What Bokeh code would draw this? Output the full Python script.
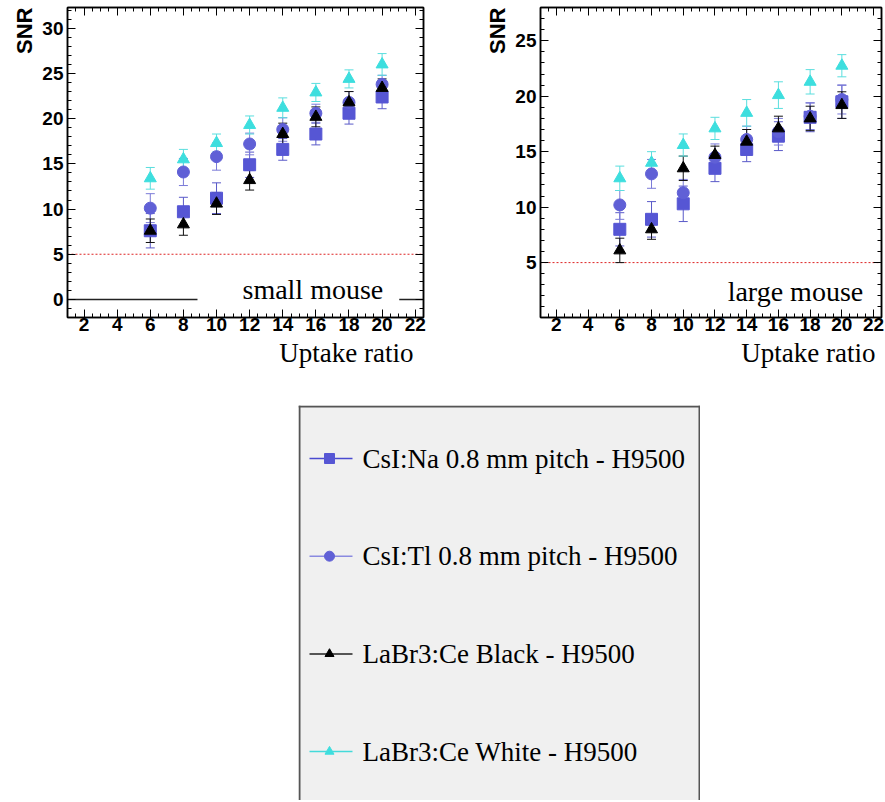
from bokeh.plotting import figure
from bokeh.models import (ColumnDataSource, Whisker, TeeHead, Span, Label, Title,
                          SingleIntervalTicker, LinearAxis, Range1d, Spacer,
                          CustomLabelingPolicy)
from bokeh.layouts import column, row
from bokeh.embed import file_html
from bokeh.resources import INLINE
from bokeh.core.properties import value

# ---------------- data ----------------
uptake_ratio = [6, 8, 10, 12, 14, 16, 18, 20]

series_labels = ["CsI:Na 0.8 mm pitch - H9500",
                 "CsI:Tl 0.8 mm pitch - H9500",
                 "LaBr3:Ce Black - H9500",
                 "LaBr3:Ce White - H9500"]

# small mouse
small_csi_na = [7.6, 9.7, 11.2, 14.9, 16.6, 18.3, 20.6, 22.4]
small_csi_na_err = [1.9, 1.6, 1.7, 1.4, 1.2, 1.2, 1.2, 1.3]
small_csi_tl = [10.1, 14.1, 15.8, 17.2, 18.8, 20.6, 21.8, 23.8]
small_csi_tl_err = [1.6, 1.5, 1.5, 1.2, 1.3, 1.0, 1.2, 1.0]
small_labr_black = [7.6, 8.3, 10.6, 13.2, 18.3, 20.2, 21.8, 23.4]
small_labr_black_err = [1.3, 1.2, 1.2, 1.1, 1.2, 1.1, 1.2, 1.0]
small_labr_white = [13.4, 15.5, 17.3, 19.3, 21.2, 22.9, 24.4, 26.0]
small_labr_white_err = [1.2, 1.1, 1.0, 1.0, 1.1, 1.0, 1.0, 1.2]

# large mouse
large_csi_na = [8.0, 8.9, 10.3, 13.5, 15.2, 16.4, 18.1, 19.5]
large_csi_na_err = [1.5, 1.6, 1.6, 1.2, 1.1, 1.3, 1.3, 1.5]
large_csi_tl = [10.2, 13.0, 11.3, 14.5, 16.1, 16.8, 18.2, 19.7]
large_csi_tl_err = [1.3, 1.3, 1.2, 1.2, 1.2, 1.2, 1.2, 1.3]
large_labr_black = [6.1, 8.0, 13.5, 14.7, 15.9, 17.1, 18.0, 19.2]
large_labr_black_err = [1.1, 0.9, 1.1, 0.8, 1.1, 1.1, 1.1, 1.2]
large_labr_white = [12.6, 14.0, 15.6, 17.1, 18.5, 20.1, 21.3, 22.75]
large_labr_white_err = [1.1, 1.0, 1.0, 1.0, 1.2, 1.2, 1.1, 1.0]

snr_threshold = 5

# ---------------- styles ----------------
SANS = "Liberation Sans"
SERIF = "Liberation Serif"
markers = ["square", "circle", "triangle", "triangle"]
marker_sizes = [12, 12, 12, 12]
colors = ["#5656d4", "#6060d6", "#000000", "#3ddede"]
err_colors = ["#5a5ac8", "#7a7ad8", "#111111", "#5adede"]
legend_line_colors = ["#4a4ad0", "#8a8ae0", "#222222", "#44dada"]

PLOT_H = 405
FRAME_TOP = 7
FRAME_H = 310

NO_LABELS = CustomLabelingPolicy(code="""
const all = [...indices]
for (const i of all) indices.unset(i)
return indices
""")


def style_axis(ax, labels=True, standoff=4):
    ax.major_tick_in = 8
    ax.major_tick_out = 0
    ax.minor_tick_in = 4
    ax.minor_tick_out = 0
    ax.axis_line_color = "black"
    ax.axis_line_width = 1.5
    ax.major_tick_line_color = "black"
    ax.minor_tick_line_color = "black"
    ax.major_tick_line_width = 1
    ax.minor_tick_line_width = 1
    ax.major_label_text_font = SANS
    ax.major_label_text_font_style = "bold"
    ax.major_label_text_color = "black"
    if labels:
        ax.major_label_text_font_size = "19px"
        ax.major_label_standoff = standoff
    else:
        ax.major_label_text_font_size = "1px"
        ax.major_label_standoff = 0
        ax.major_label_policy = NO_LABELS


def make_panel(width, ml, mr, x_end, y_start, y_end, vals, errs, tag, tag_x, tag_y,
               uptake_offset, zero_line):
    p = figure(width=width, height=PLOT_H, x_range=Range1d(1, x_end),
               y_range=Range1d(y_start, y_end), output_backend="svg",
               toolbar_location=None, min_border_left=ml, min_border_right=mr,
               min_border_top=FRAME_TOP, min_border_bottom=PLOT_H - FRAME_H - FRAME_TOP,
               x_axis_type=None, y_axis_type=None,
               background_fill_color="white", border_fill_color="white")
    p.outline_line_color = "black"
    p.outline_line_width = 1.5

    xb = LinearAxis(ticker=SingleIntervalTicker(interval=2, num_minor_ticks=4))
    style_axis(xb, True, 0)
    p.add_layout(xb, "below")
    xt = LinearAxis(ticker=SingleIntervalTicker(interval=2, num_minor_ticks=4))
    style_axis(xt, False)
    p.add_layout(xt, "above")
    yl = LinearAxis(ticker=SingleIntervalTicker(interval=5, num_minor_ticks=5))
    style_axis(yl, True, 4)
    p.add_layout(yl, "left")
    yr = LinearAxis(ticker=SingleIntervalTicker(interval=5, num_minor_ticks=5))
    style_axis(yr, False)
    p.add_layout(yr, "right")

    p.add_layout(Title(text="SNR", align="right", text_font=SANS, text_font_style="bold",
                       text_font_size="22px", text_color="black", standoff=5), "left")
    p.add_layout(Title(text="Uptake ratio", align="right", text_font=SERIF,
                       text_font_style="normal", text_font_size="27px",
                       text_color="black", standoff=4, offset=uptake_offset), "below")

    p.add_layout(Span(location=snr_threshold, dimension="width", line_color="#dd2222",
                      line_dash="2 2", line_width=1, level="underlay"))
    if zero_line:
        p.add_layout(Span(location=0, dimension="width", line_color="#222222",
                          line_width=1.5, level="underlay"))

    for i in range(4):
        v = vals[i]
        e = errs[i]
        src = ColumnDataSource(dict(x=uptake_ratio, y=v,
                                    upper=[a + b for a, b in zip(v, e)],
                                    lower=[a - b for a, b in zip(v, e)]))
        w = Whisker(base="x", upper="upper", lower="lower", source=src, dimension="height",
                    line_color=err_colors[i], line_width=1, level="underlay",
                    upper_head=TeeHead(size=9, line_color=err_colors[i], line_width=1),
                    lower_head=TeeHead(size=9, line_color=err_colors[i], line_width=1))
        p.add_layout(w)
    for i in range(4):
        v = vals[i]
        src = ColumnDataSource(dict(x=uptake_ratio, y=v))
        p.scatter(x="x", y="y", source=src, marker=markers[i], size=marker_sizes[i],
                  fill_color=colors[i], line_color=colors[i])

    lab = Label(x=tag_x, y=tag_y, text=tag, text_font=SERIF, text_font_size="28px",
                text_color="black", text_baseline="alphabetic", text_align="left")
    if zero_line:
        lab.background_fill_color = "white"
        lab.padding = dict(left=45, right=16, top=2, bottom=4)
    p.add_layout(lab)
    return p


p1 = make_panel(470, 67, 47, 22.5, -2.0, 32.3,
                [small_csi_na, small_csi_tl, small_labr_black, small_labr_white],
                [small_csi_na_err, small_csi_tl_err, small_labr_black_err, small_labr_white_err],
                "small mouse", 8.85, 1.0, 10, True)
p2 = make_panel(415, 70, 0, 22.5, 0.05, 28.0,
                [large_csi_na, large_csi_tl, large_labr_black, large_labr_white],
                [large_csi_na_err, large_csi_tl_err, large_labr_black_err, large_labr_white_err],
                "large mouse", 12.8, 2.35, 6, False)

# ---------------- legend panel ----------------
LEG_W, LEG_H = 402, 395
p3 = figure(width=LEG_W, height=LEG_H, x_range=Range1d(-1, LEG_W - 1),
            y_range=Range1d(LEG_H - 1, -1), output_backend="svg", toolbar_location=None,
            min_border=0, x_axis_type=None, y_axis_type=None,
            background_fill_color="#f0f0f0", border_fill_color="#f0f0f0")
p3.outline_line_color = None
row_y = [52 + 97.7 * i for i in range(4)]
leg = ColumnDataSource(dict(y=row_y, x0=[10] * 4, x1=[53] * 4, xm=[30] * 4, xt=[63] * 4,
                            m=markers, c=colors, lc=legend_line_colors,
                            s=[10, 10, 9, 9], t=series_labels))
p3.segment(x0="x0", y0="y", x1="x1", y1="y", line_color="lc", line_width=1.5, source=leg)
p3.scatter(x="xm", y="y", marker="m", size="s", fill_color="c", line_color="c", source=leg)
p3.text(x="xt", y="y", text="t", text_font=value(SERIF), text_font_size=value("27px"),
        text_baseline="middle", text_align="left", text_color="black", source=leg)
for loc in [0, 400]:
    p3.add_layout(Span(location=loc, dimension="height", line_color="#555555", line_width=2))
p3.add_layout(Span(location=0, dimension="width", line_color="#555555", line_width=2))

layout = column(row(p1, p2), row(Spacer(width=298, height=LEG_H), p3))

open("out.html", "w").write(file_html(layout, INLINE))
